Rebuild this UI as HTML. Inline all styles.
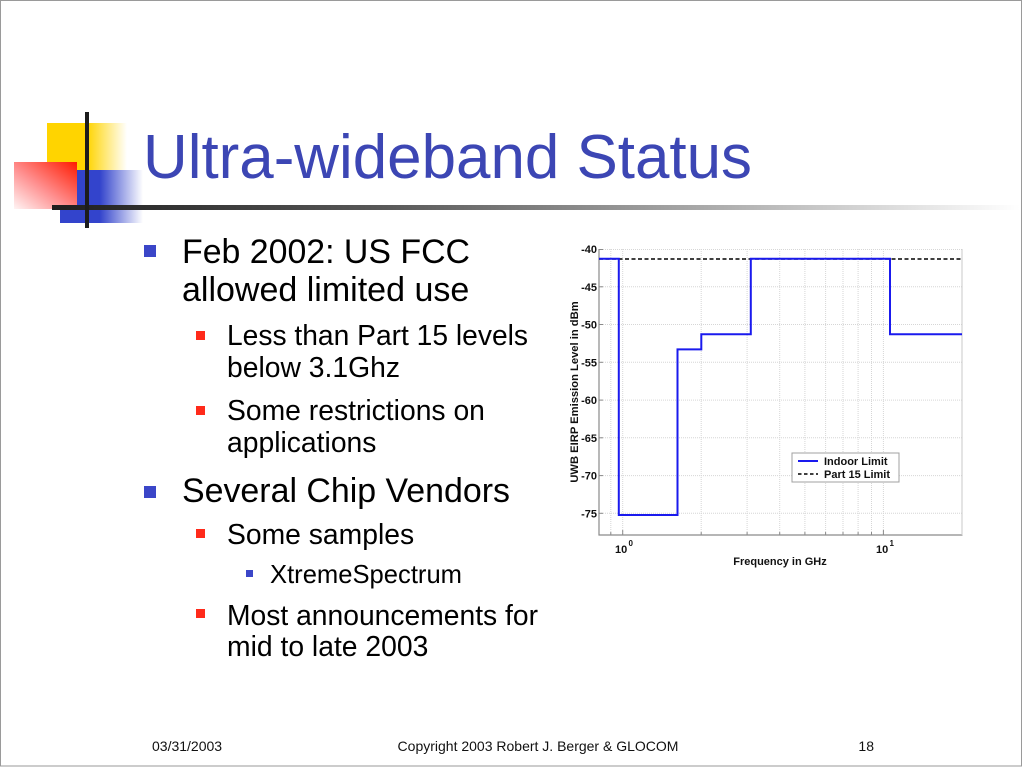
<!DOCTYPE html>
<html>
<head>
<meta charset="utf-8">
<style>
html,body{margin:0;padding:0;background:#fff;}
body{width:1024px;height:768px;overflow:hidden;}
svg{display:block;}
text{font-family:"Liberation Sans",Arial,sans-serif;}
</style>
</head>
<body>
<svg width="1024" height="768" viewBox="0 0 1024 768" xmlns="http://www.w3.org/2000/svg">
<defs>
  <linearGradient id="gy" x1="0" y1="0" x2="1" y2="0">
    <stop offset="0" stop-color="#ffd400"/>
    <stop offset="0.5" stop-color="#ffd400"/>
    <stop offset="1" stop-color="#ffffff"/>
  </linearGradient>
  <linearGradient id="gr" x1="1" y1="0" x2="0" y2="1">
    <stop offset="0" stop-color="#ff1a00"/>
    <stop offset="0.55" stop-color="#ff8f8f"/>
    <stop offset="1" stop-color="#fff4f4"/>
  </linearGradient>
  <linearGradient id="gb" x1="0" y1="0" x2="1" y2="0">
    <stop offset="0" stop-color="#3344cc"/>
    <stop offset="0.48" stop-color="#3344cc"/>
    <stop offset="1" stop-color="#ffffff"/>
  </linearGradient>
  <linearGradient id="gh" x1="0" y1="0" x2="1" y2="0">
    <stop offset="0" stop-color="#1e1e1e"/>
    <stop offset="0.35" stop-color="#5a5a5a"/>
    <stop offset="0.7" stop-color="#b0b0b0"/>
    <stop offset="1" stop-color="#ffffff"/>
  </linearGradient>
</defs>

<!-- slide border -->
<rect x="0.5" y="0.5" width="1021" height="765.5" fill="#fff" stroke="#9a9a9a" stroke-width="1"/>

<!-- decoration -->
<rect x="47" y="123" width="80" height="52" fill="url(#gy)"/>
<rect x="60" y="170" width="83" height="53" fill="url(#gb)"/>
<rect x="14" y="162" width="63" height="47" fill="url(#gr)"/>
<rect x="52" y="205" width="968" height="5" fill="url(#gh)"/>
<rect x="85" y="112" width="4" height="116" fill="#1c1c1c"/>

<!-- title -->
<text x="143" y="178" font-size="62" fill="#3c46b4" textLength="609" lengthAdjust="spacingAndGlyphs">Ultra-wideband Status</text>

<!-- bullets -->
<rect x="144" y="245" width="12" height="12" fill="#3b46c8"/>
<text x="182" y="263" font-size="34" fill="#000" textLength="288" lengthAdjust="spacingAndGlyphs">Feb 2002: US FCC</text>
<text x="182" y="301" font-size="34" fill="#000">allowed limited use</text>

<rect x="196" y="331" width="9" height="9" fill="#ff2a1a"/>
<text x="227" y="345" font-size="28.3" fill="#000" textLength="301" lengthAdjust="spacingAndGlyphs">Less than Part 15 levels</text>
<text x="227" y="377" font-size="28.3" fill="#000">below 3.1Ghz</text>

<rect x="196" y="406" width="9" height="9" fill="#ff2a1a"/>
<text x="227" y="420" font-size="28.3" fill="#000">Some restrictions on</text>
<text x="227" y="452" font-size="28.3" fill="#000">applications</text>

<rect x="144" y="486" width="12" height="12" fill="#3b46c8"/>
<text x="182" y="502" font-size="34" fill="#000" textLength="328" lengthAdjust="spacingAndGlyphs">Several Chip Vendors</text>

<rect x="196" y="529" width="9" height="9" fill="#ff2a1a"/>
<text x="227" y="544" font-size="28.3" fill="#000">Some samples</text>

<rect x="246" y="570" width="7" height="7" fill="#3b46c8"/>
<text x="270" y="583" font-size="25.6" fill="#000" textLength="192" lengthAdjust="spacingAndGlyphs">XtremeSpectrum</text>

<rect x="196" y="609" width="9" height="9" fill="#ff2a1a"/>
<text x="227" y="625" font-size="28.3" fill="#000" textLength="311" lengthAdjust="spacingAndGlyphs">Most announcements for</text>
<text x="227" y="656" font-size="28.3" fill="#000">mid to late 2003</text>

<!-- chart -->
<g>
  <rect x="599" y="249" width="363" height="286" fill="#fff"/>
  <!-- horizontal grid -->
  <g stroke="#d6d6d6" stroke-width="1" stroke-dasharray="1,1">
    <line x1="599" y1="249.5" x2="962" y2="249.5"/>
    <line x1="599" y1="286.8" x2="962" y2="286.8"/>
    <line x1="599" y1="324.5" x2="962" y2="324.5"/>
    <line x1="599" y1="362.3" x2="962" y2="362.3"/>
    <line x1="599" y1="400.1" x2="962" y2="400.1"/>
    <line x1="599" y1="437.8" x2="962" y2="437.8"/>
    <line x1="599" y1="475.6" x2="962" y2="475.6"/>
    <line x1="599" y1="513.3" x2="962" y2="513.3"/>
    <!-- vertical grid -->
    <line x1="610.8" y1="249" x2="610.8" y2="535"/>
    <line x1="622.7" y1="249" x2="622.7" y2="535"/>
    <line x1="701.2" y1="249" x2="701.2" y2="535"/>
    <line x1="747.1" y1="249" x2="747.1" y2="535"/>
    <line x1="779.7" y1="249" x2="779.7" y2="535"/>
    <line x1="804.9" y1="249" x2="804.9" y2="535"/>
    <line x1="825.6" y1="249" x2="825.6" y2="535"/>
    <line x1="843.0" y1="249" x2="843.0" y2="535"/>
    <line x1="858.1" y1="249" x2="858.1" y2="535"/>
    <line x1="871.5" y1="249" x2="871.5" y2="535"/>
    <line x1="883.4" y1="249" x2="883.4" y2="535"/>
  </g>
  <!-- axes -->
  <line x1="599" y1="249" x2="599" y2="535.5" stroke="#8a8a8a" stroke-width="1.2"/>
  <line x1="598.5" y1="535" x2="962.5" y2="535" stroke="#8a8a8a" stroke-width="1.2"/>
  <line x1="962" y1="249" x2="962" y2="535" stroke="#c8c8c8" stroke-width="1"/>
  <!-- ticks -->
  <g stroke="#8a8a8a" stroke-width="1">
    <line x1="599" y1="249.5" x2="603" y2="249.5"/>
    <line x1="599" y1="286.8" x2="603" y2="286.8"/>
    <line x1="599" y1="324.5" x2="603" y2="324.5"/>
    <line x1="599" y1="362.3" x2="603" y2="362.3"/>
    <line x1="599" y1="400.1" x2="603" y2="400.1"/>
    <line x1="599" y1="437.8" x2="603" y2="437.8"/>
    <line x1="599" y1="475.6" x2="603" y2="475.6"/>
    <line x1="599" y1="513.3" x2="603" y2="513.3"/>
    <line x1="622.7" y1="535" x2="622.7" y2="530"/>
    <line x1="883.4" y1="535" x2="883.4" y2="530"/>
    <line x1="610.8" y1="535" x2="610.8" y2="532"/>
    <line x1="701.2" y1="535" x2="701.2" y2="532"/>
    <line x1="747.1" y1="535" x2="747.1" y2="532"/>
    <line x1="779.7" y1="535" x2="779.7" y2="532"/>
    <line x1="804.9" y1="535" x2="804.9" y2="532"/>
    <line x1="825.6" y1="535" x2="825.6" y2="532"/>
    <line x1="843.0" y1="535" x2="843.0" y2="532"/>
    <line x1="858.1" y1="535" x2="858.1" y2="532"/>
    <line x1="871.5" y1="535" x2="871.5" y2="532"/>
  </g>
  <!-- Part 15 -->
  <line x1="599" y1="259" x2="962" y2="259" stroke="#000" stroke-width="1.6" stroke-dasharray="4,2.5"/>
  <!-- Indoor limit -->
  <polyline fill="none" stroke="#1a1aee" stroke-width="2"
    points="599,258.8 618.8,258.8 618.8,515 677.5,515 677.5,349.4 701.3,349.4 701.3,334.3 750.8,334.3 750.8,258.8 890,258.8 890,334.3 962,334.3"/>

  <!-- y tick labels -->
  <g font-size="11" font-weight="bold" fill="#111" text-anchor="end">
    <text x="597" y="253">-40</text>
    <text x="597" y="290.8">-45</text>
    <text x="597" y="328.5">-50</text>
    <text x="597" y="366.3">-55</text>
    <text x="597" y="404.1">-60</text>
    <text x="597" y="441.8">-65</text>
    <text x="597" y="479.6">-70</text>
    <text x="597" y="517.3">-75</text>
  </g>
  <!-- x tick labels -->
  <g font-weight="bold" fill="#111">
    <text x="615" y="553" font-size="11">10</text>
    <text x="628.5" y="546" font-size="8">0</text>
    <text x="876" y="553" font-size="11">10</text>
    <text x="889.5" y="546" font-size="8">1</text>
  </g>
  <text x="780" y="565" font-size="11" font-weight="bold" fill="#111" text-anchor="middle">Frequency in GHz</text>
  <text transform="translate(578,392) rotate(-90)" font-size="11.2" font-weight="bold" fill="#111" text-anchor="middle">UWB EIRP Emission Level in dBm</text>

  <!-- legend -->
  <rect x="792" y="453" width="107" height="29" fill="#fff" stroke="#a0a0a0" stroke-width="1"/>
  <line x1="798" y1="461" x2="818" y2="461" stroke="#1a1aee" stroke-width="2"/>
  <line x1="798" y1="474" x2="818" y2="474" stroke="#000" stroke-width="1.6" stroke-dasharray="3.5,2.5"/>
  <text x="824" y="465" font-size="11" font-weight="bold" fill="#111">Indoor Limit</text>
  <text x="824" y="478" font-size="11" font-weight="bold" fill="#111">Part 15 Limit</text>
</g>

<!-- footer -->
<g font-size="14" fill="#111">
  <text x="152" y="751">03/31/2003</text>
  <text x="538" y="751" text-anchor="middle">Copyright 2003 Robert J. Berger &amp; GLOCOM</text>
  <text x="874" y="751" text-anchor="end">18</text>
</g>
</svg>
</body>
</html>
